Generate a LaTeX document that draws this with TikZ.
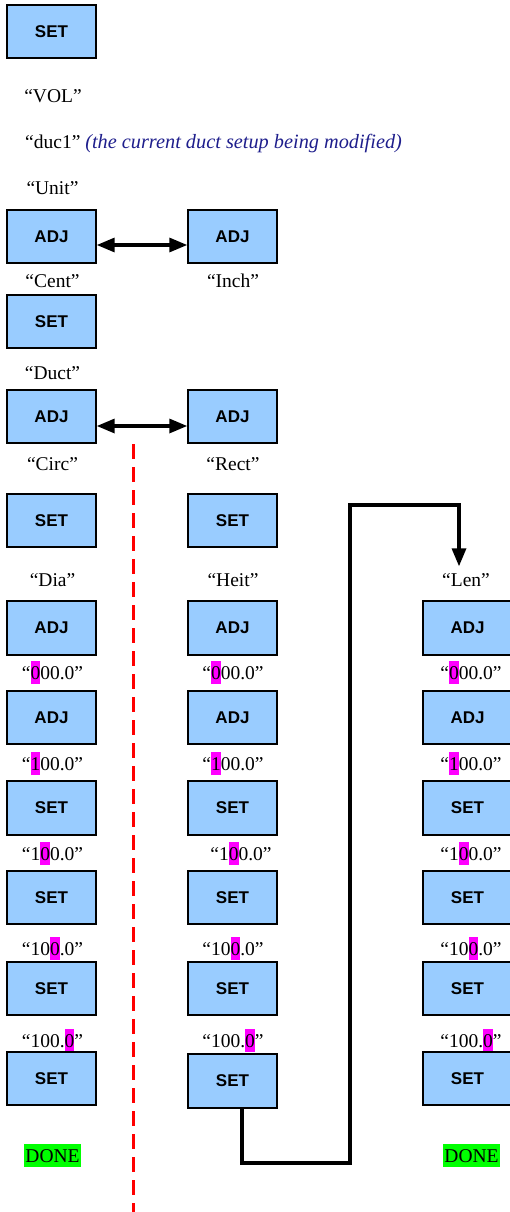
\documentclass[tikz,border=0pt]{standalone}
\usepackage{fontspec}
\setmainfont{Liberation Serif}
\setsansfont{Liberation Sans}
\usepackage{tikz}
\usetikzlibrary{arrows}
\definecolor{keyblue}{RGB}{153,204,255}
\definecolor{notenavy}{RGB}{30,30,140}
\definecolor{digpink}{RGB}{255,0,255}
\definecolor{donegreen}{RGB}{0,255,0}
\newcommand{\digmark}[1]{{\setlength{\fboxsep}{0pt}\colorbox{digpink}{\rule[-4.5pt]{0pt}{23pt}#1}}}
\tikzset{
  keybox/.style = {rectangle, draw=black, fill=keyblue, line width=1.6pt,
    minimum width=89.5pt, minimum height=53.5pt, inner sep=0pt,
    font=\fontsize{17}{20}\selectfont\sffamily\bfseries},% key on the meter
  shown/.style = {anchor=base, inner sep=0pt,
    font=\fontsize{19.5}{23}\selectfont},% what the display reads
  done/.style = {shown, fill=donegreen, inner xsep=1.5pt, inner ysep=0pt,
    text height=18pt, text depth=4.5pt},% end of the sequence
  swap/.style = {<->, line width=3.2pt},% toggle between two settings
  flow/.style = {->, line width=3.2pt},% jump to next column
  cutline/.style = {red, dashed, line width=3pt, dash pattern=on 15pt off 8pt}
}

\begin{document}
\begin{tikzpicture}[x=1pt,y=-1pt,>=triangle 45]
    \useasboundingbox (0,0) rectangle (510,1212);
    % left column
    \node [keybox] (lset0) at (51.5,31.5) {SET};
    \node [shown] (tvol) at (53,103) {“VOL”};
    \node [shown, anchor=base west] (tduc) at (25,149) {“duc1” {\color{notenavy}\fontsize{20.3}{23}\selectfont\itshape (the current duct setup being modified)}};
    \node [shown] (tunit) at (52.5,194) {“Unit”};
    \node [keybox] (ladjU) at (51.5,236.5) {ADJ};
    \node [shown] (tcent) at (52.5,287) {“Cent”};
    \node [keybox] (lsetU) at (51.5,321.5) {SET};
    \node [shown] (tduct) at (52.5,379) {“Duct”};
    \node [keybox] (ladjD) at (51.5,416.5) {ADJ};
    \node [shown] (tcirc) at (52.5,470) {“Circ”};
    \node [keybox] (lsetS) at (51.5,520.5) {SET};
    \node [shown] (tdia) at (52.5,586) {“Dia”};
    \node [keybox] (ladj1) at (51.5,628) {ADJ};
    \node [shown] (ln1) at (52.5,679) {“\digmark{0}00.0”};
    \node [keybox] (ladj2) at (51.5,717.5) {ADJ};
    \node [shown] (ln2) at (52.5,770) {“\digmark{1}00.0”};
    \node [keybox] (lset1) at (51.5,808) {SET};
    \node [shown] (ln3) at (52.5,860) {“1\digmark{0}0.0”};
    \node [keybox] (lset2) at (51.5,897.5) {SET};
    \node [shown] (ln4) at (52.5,955) {“10\digmark{0}.0”};
    \node [keybox] (lset3) at (51.5,988.5) {SET};
    \node [shown] (ln5) at (52.5,1047) {“100.\digmark{0}”};
    \node [keybox] (lset4) at (51.5,1078.5) {SET};
    \node [done] (ldone) at (52.5,1162) {DONE};
    % middle column
    \node [keybox] (madjU) at (232.5,236.5) {ADJ};
    \node [shown] (tinch) at (233,287) {“Inch”};
    \node [keybox] (madjD) at (232.5,416.5) {ADJ};
    \node [shown] (trect) at (233,470) {“Rect”};
    \node [keybox] (msetS) at (232.5,520.5) {SET};
    \node [shown] (theit) at (233,586) {“Heit”};
    \node [keybox] (madj1) at (232.5,628) {ADJ};
    \node [shown] (mn1) at (233,679) {“\digmark{0}00.0”};
    \node [keybox] (madj2) at (232.5,717.5) {ADJ};
    \node [shown] (mn2) at (233,770) {“\digmark{1}00.0”};
    \node [keybox] (mset1) at (232.5,808) {SET};
    \node [shown] (mn3) at (241,860) {“1\digmark{0}0.0”};
    \node [keybox] (mset2) at (232.5,897.5) {SET};
    \node [shown] (mn4) at (233,955) {“10\digmark{0}.0”};
    \node [keybox] (mset3) at (232.5,988.5) {SET};
    \node [shown] (mn5) at (233,1047) {“100.\digmark{0}”};
    \node [keybox] (mset4) at (232.5,1081) {SET};
    % right column
    \node [shown] (tlen) at (466,586) {“Len”};
    \node [keybox] (radj1) at (467.5,628) {ADJ};
    \node [shown] (rn1) at (471,679) {“\digmark{0}00.0”};
    \node [keybox] (radj2) at (467.5,717.5) {ADJ};
    \node [shown] (rn2) at (471,770) {“\digmark{1}00.0”};
    \node [keybox] (rset1) at (467.5,808) {SET};
    \node [shown] (rn3) at (471,860) {“1\digmark{0}0.0”};
    \node [keybox] (rset2) at (467.5,897.5) {SET};
    \node [shown] (rn4) at (471,955) {“10\digmark{0}.0”};
    \node [keybox] (rset3) at (467.5,988.5) {SET};
    \node [shown] (rn5) at (471,1047) {“100.\digmark{0}”};
    \node [keybox] (rset4) at (467.5,1078.5) {SET};
    \node [done] (rdone) at (471.5,1162) {DONE};
    % connectors
    \draw [swap] ([yshift=-8.5pt]ladjU.east) -- ([yshift=-8.5pt]madjU.west);
    \draw [swap] ([yshift=-9.5pt]ladjD.east) -- ([yshift=-9.5pt]madjD.west);
    \coordinate (low) at (350,1163);
    \coordinate (high) at (350,505);
    \coordinate (lenin) at (459,566);
    \draw [flow] ([xshift=9.5pt]mset4.south) |- (low) -- (high) -| (lenin);
    \coordinate (cuttop) at (133,444);
    \coordinate (cutbot) at (133,1212);
    \draw [cutline] (cuttop) -- (cutbot);
\end{tikzpicture}
\end{document}
